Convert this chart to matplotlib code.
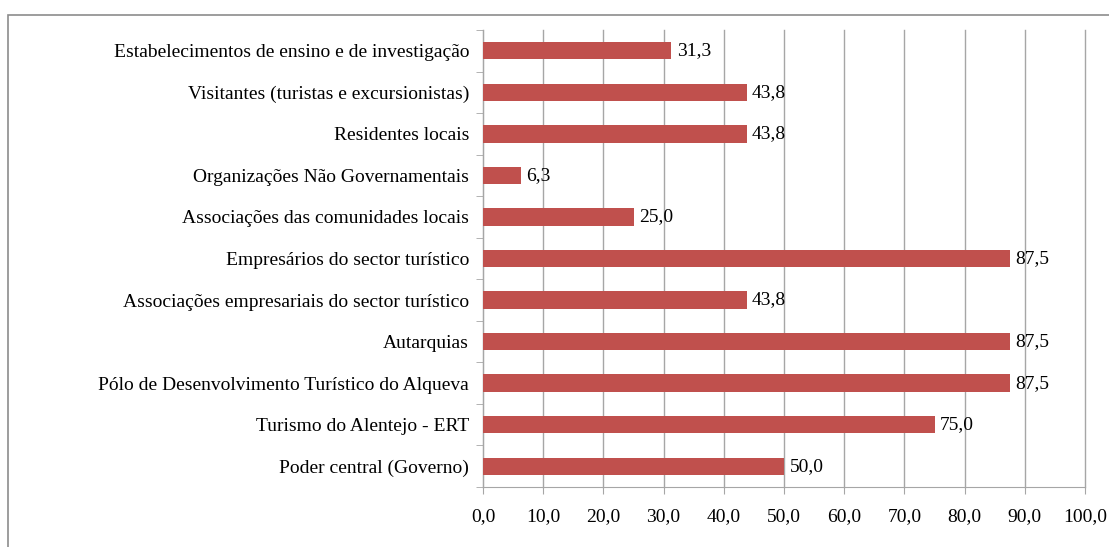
import matplotlib.pyplot as plt
from matplotlib.patches import Rectangle

categorias = ['Poder central (Governo)', 'Turismo do Alentejo - ERT',
              'Pólo de Desenvolvimento Turístico do Alqueva', 'Autarquias',
              'Associações empresariais do sector turístico',
              'Empresários do sector turístico',
              'Associações das comunidades locais',
              'Organizações Não Governamentais', 'Residentes locais',
              'Visitantes (turistas e excursionistas)',
              'Estabelecimentos de ensino e de investigação']
valores = [50.0, 75.0, 87.5, 87.5, 43.8, 87.5, 25.0, 6.3, 43.8, 43.8, 31.3]
ticks_x = [0, 10, 20, 30, 40, 50, 60, 70, 80, 90, 100]

plt.rcParams['font.family'] = ['Liberation Serif', 'DejaVu Serif']
cor = '#C0504D'
cinza = '#A6A6A6'
fs = 14

fig = plt.figure(figsize=(11.09, 5.47), dpi=100)
ax = fig.add_axes([483 / 1109, 1 - 487 / 547, (1085 - 483) / 1109, (487 - 30) / 547])

y = range(len(categorias))
ax.barh(y, valores, height=0.42, color=cor, zorder=3)
for i, v in enumerate(valores):
    ax.text(v + 0.9, i, f'{v:.1f}'.replace('.', ','), va='center', ha='left',
            fontsize=fs, zorder=4)

ax.set_xlim(0, 100)
ax.set_ylim(-0.5, len(categorias) - 0.5)
ax.set_xticks(ticks_x)
ax.set_xticklabels([f'{t:.1f}'.replace('.', ',') for t in ticks_x], fontsize=fs)
ax.set_yticks(list(y))
ax.set_yticklabels(categorias, fontsize=fs)
ax.tick_params(axis='y', length=0, pad=10)
ax.tick_params(axis='x', length=5, color=cinza, pad=10)
# marcas entre categorias no eixo y
ax.set_yticks([i - 0.5 for i in range(len(categorias) + 1)], minor=True)
ax.tick_params(axis='y', which='minor', length=5, color=cinza)
ax.grid(axis='x', color=cinza, linewidth=1, zorder=0)
for gl in ax.get_xgridlines():
    gl.set_clip_on(False)
for s in ['top', 'right']:
    ax.spines[s].set_visible(False)
ax.spines['left'].set_color(cinza)
ax.spines['bottom'].set_color(cinza)

fig.patches.append(Rectangle((8 / 1109, -0.1), 1.2, 1 - 15 / 547 + 0.1,
                             transform=fig.transFigure, fill=False,
                             edgecolor='#8C8C8C', linewidth=1.2))

fig.savefig('out.png', dpi=100)
